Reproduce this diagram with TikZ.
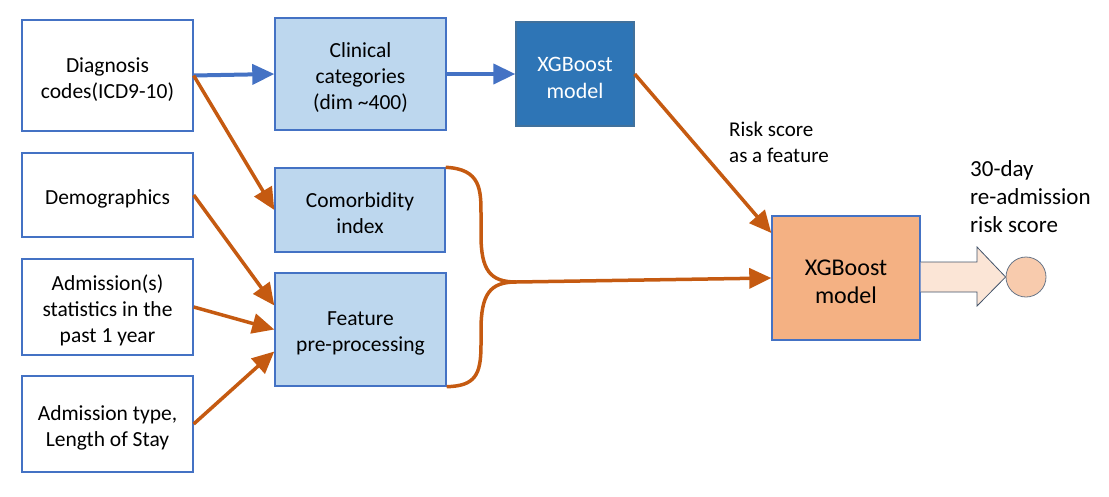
\documentclass[tikz,border=0pt]{standalone}
\usepackage{fontspec}
\setmainfont{Carlito}
\usetikzlibrary{arrows.meta}
\definecolor{lblue}{HTML}{BDD7EE}
\definecolor{bborder}{HTML}{4472C4}
\definecolor{dblue}{HTML}{2E75B6}
\definecolor{dborder}{HTML}{41719C}
\definecolor{orfill}{HTML}{F4B183}
\definecolor{orline}{HTML}{C55A11}
\definecolor{bigfill}{HTML}{FBE5D6}
\definecolor{bigline}{HTML}{44546A}
\definecolor{circfill}{HTML}{F8CBAD}
\newcommand{\topstrut}{\rule{0pt}{22pt}}
\tikzset{
  base/.style={draw=bborder, line width=1.4pt, align=center, inner sep=0pt,
    font=\fontsize{21.5}{26}\selectfont},
  inbox/.style={base, fill=white},
  procbox/.style={base, fill=lblue},
  darkbox/.style={base, fill=dblue, draw=dborder, text=white, font=\fontsize{22}{26.5}\selectfont},
  orbox/.style={base, fill=orfill, font=\fontsize{24}{27.5}\selectfont},
  oarrow/.style={draw=orline, line width=3.5pt, -{Triangle[length=22pt,width=20pt]}},
  barrow/.style={draw=bborder, line width=4pt, -{Triangle[length=22pt,width=20pt]}},
}
\begin{document}
\begin{tikzpicture}[x=1pt,y=-1pt]
\useasboundingbox (0,0) rectangle (1109,496);
% inputs
\node[inbox, minimum width=171pt, minimum height=111pt] (diag) at (107.5,75.5) {\topstrut Diagnosis\\codes(ICD9-10)};
\node[inbox, minimum width=171pt, minimum height=84pt] (demo) at (107.5,195) {\topstrut Demographics};
\node[inbox, minimum width=171pt, minimum height=96pt] (stats) at (107.5,307) {\topstrut Admission(s)\\statistics in the\\past 1 year};
\node[inbox, minimum width=171pt, minimum height=96pt] (atype) at (107.5,424) {\topstrut Admission type,\\Length of Stay};
% processing
\node[procbox, minimum width=171pt, minimum height=112pt] (clin) at (360.5,74) {\topstrut Clinical\\categories\\(dim \textasciitilde400)};
\node[procbox, minimum width=170pt, minimum height=84pt] (comor) at (360,210) {\topstrut Comorbidity\\index};
\node[procbox, minimum width=171pt, minimum height=113pt] (feat) at (360.5,329.5) {\topstrut Feature\\pre-processing};
\node[darkbox, minimum width=118pt, minimum height=104pt] (xgb1) at (575,74) {\topstrut XGBoost\\model};
\node[orbox, minimum width=148pt, minimum height=124pt] (xgb2) at (846,278) {\rule{0pt}{23pt}XGBoost\\model};
% labels
\node[anchor=north west, align=left, inner sep=0pt, font=\fontsize{21}{26}\selectfont] (risk) at (729,122) {Risk score\\as a feature};
\node[anchor=north west, align=left, inner sep=0pt, font=\fontsize{23}{28}\selectfont] (out) at (970,160) {30-day\\re-admission\\risk score};
% output circle
\node[circle, draw=bigline!80, line width=0.8pt, fill=circfill, minimum size=40pt, inner sep=0pt] (res) at (1026,277) {};
% big arrow
\draw[draw=bigline, line width=0.8pt, fill=bigfill] (xgb2.east |- 0,262) -- (977,262) -- (977,247) -- (res.west) -- (977,306) -- (977,292) -- (xgb2.east |- 0,292);
% blue arrows
\draw[barrow] (diag.east) -- (clin.west);
\draw[barrow] (clin.east) -- (xgb1.west);
% orange arrows
\draw[oarrow] (diag.east) -- (comor.west);
\draw[oarrow] (demo.east) -- ([yshift=24pt]feat.west);
\draw[oarrow] (stats.east) -- (feat.west);
\draw[oarrow] (atype.east) -- ([yshift=-22pt]feat.west);
\draw[oarrow] (xgb1.east) -- ([yshift=45pt]xgb2.west);
% brace
\coordinate (join) at (516,282);
\draw[draw=orline, line width=3.5pt] (comor.north east) .. controls (481,169) and (481,190) .. (481,215) -- (481,235) .. controls (481,270) and (490,282) .. (join)
  .. controls (490,282) and (481,294) .. (481,330) -- (481,345) .. controls (481,375) and (475,386) .. (feat.south east);
\draw[oarrow] (join) -- (xgb2.west);
\end{tikzpicture}
\end{document}
